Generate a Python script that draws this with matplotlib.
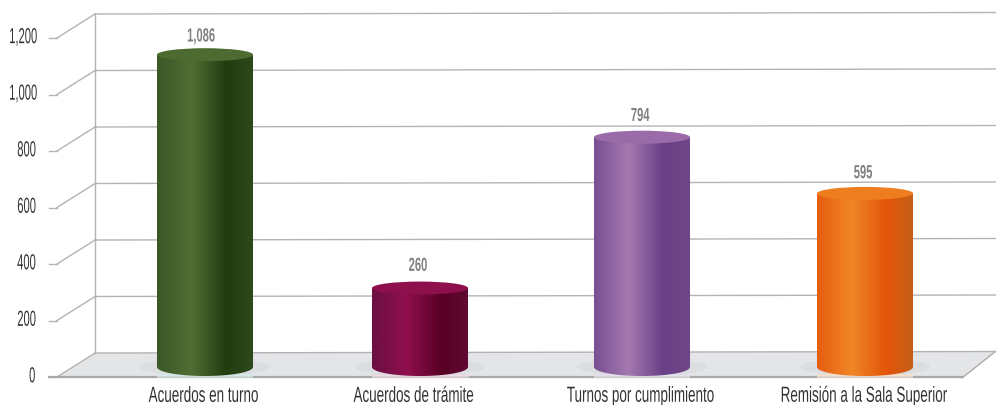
import numpy as np
import matplotlib
matplotlib.use("Agg")
import matplotlib.pyplot as plt
from matplotlib.colors import LinearSegmentedColormap
from matplotlib.patches import Ellipse, PathPatch, Polygon
from matplotlib.path import Path
from matplotlib.patheffects import AbstractPathEffect
from matplotlib.transforms import Affine2D

categories = ["Acuerdos en turno", "Acuerdos de trámite", "Turnos por cumplimiento", "Remisión a la Sala Superior"]
values = [1086, 260, 794, 595]
value_labels = ["1,086", "260", "794", "595"]
y_ticks = [0, 200, 400, 600, 800, 1000, 1200]
y_tick_labels = ["0", "200", "400", "600", "800", "1,000", "1,200"]

side_colors = [
    ["#3b5727", "#506f34", "#223c10", "#2d4a1b"],
    ["#6b0f42", "#8f0f4e", "#590024", "#600a32"],
    ["#784f92", "#a579af", "#6a4086", "#6f4686"],
    ["#e75d10", "#f08626", "#e4550a", "#c65f18"],
]
top_colors = ["#4d6b30", "#8d104c", "#9a6ba8", "#ee7d1f"]
glow_colors = ["#cfe6e6", "#e8d5de", "#e3dcea", "#f8dcc0"]

W, H = 996, 405
PX_X = 220.0      # pixels per category
PX_Y = 0.2825     # pixels per value unit
X0, Y0 = 205, 377 # pixel of category 0 and of value 0

# the bars are not evenly spaced in the original
bar_shift = [0, -5, -3, 0]
label_shift = [-1, -11, -4, -1]
value_shift = [-4, -7, -5, -2]
value_rise = [18, 22, 21, 20]


class Squeeze(AbstractPathEffect):
    """Narrows a text horizontally, the installed fonts are too wide."""
    def __init__(self, sx, sy=1.0):
        super().__init__()
        self.sx = sx
        self.sy = sy

    def draw_path(self, renderer, gc, tpath, affine, rgbFace=None):
        ext = tpath.transformed(affine).get_extents()
        cx = (ext.x0 + ext.x1) / 2
        cy = (ext.y0 + ext.y1) / 2
        squeeze = Affine2D().translate(-cx, -cy).scale(self.sx, self.sy).translate(cx, cy)
        renderer.draw_path(gc, tpath, affine + squeeze, rgbFace)


def dx(px):
    return px / PX_X


def dy(px):
    return px / PX_Y


fig = plt.figure(figsize=(W / 100, H / 100), dpi=100)
ax = fig.add_axes([0, 0, 1, 1])
ax.axis("off")
xlim = (-X0 / PX_X, (W - X0) / PX_X)
ylim = (-(H - Y0) / PX_Y, Y0 / PX_Y)

FONT = ["Liberation Sans", "DejaVu Sans"]
DEPTH_X, DEPTH_Y = dx(38), dy(24)
left = xlim[0] + dx(57)
right_front = xlim[0] + dx(962)
right_back = xlim[1]
grid_color = "#b3b3b5"

# piso
ax.add_patch(Polygon([(left, 0), (left + DEPTH_X, DEPTH_Y), (right_back, DEPTH_Y + dy(2)), (right_front, -dy(1))],
                     closed=True, facecolor="#e4e5e7", edgecolor="none", zorder=1))
ax.plot([right_front, right_back], [-dy(1), DEPTH_Y + dy(2)], color="#a5a5a7", lw=0.9, zorder=1.5)

# rejilla y pared
for t, lab in zip(y_ticks, y_tick_labels):
    ax.plot([left + DEPTH_X, right_back], [t + DEPTH_Y, t + DEPTH_Y + dy(1.5)], color=grid_color, lw=1.0, zorder=1.5)
    ax.plot([left, left + DEPTH_X], [t, t + DEPTH_Y], color=grid_color, lw=1.0, zorder=1.5)
    ax.plot([left - dx(8), left], [t, t], color=grid_color, lw=1.0, zorder=1.5)
    # digit width is the same for every label, so the right edge stays at 37 px
    width = len(lab.replace(",", "")) * 5.55 + (1.6 if "," in lab else 0)
    ax.text(xlim[0] + dx(35 - width / 2), t, lab, ha="center", va="center", fontsize=14, family=FONT,
            color="#333335", path_effects=[Squeeze(0.576, 1.12)], zorder=5)
ax.plot([left + DEPTH_X] * 2, [DEPTH_Y, y_ticks[-1] + DEPTH_Y], color=grid_color, lw=1.0, zorder=1.5)
ax.plot([left - dx(8), right_front], [0, 0], color="#a9a9ab", lw=1.6, zorder=1.6)

# cilindros
bar_w = dx(96)
top_off = dy(15.5)
base_off = dy(10)
top_h = dy(13)
base_h = dy(18)
for i, v in enumerate(values):
    c = i + dx(bar_shift[i])
    top = v + top_off
    # sombra y reflejo
    ax.add_patch(Ellipse((c, base_off), dx(130), dy(18), facecolor="#dcdde0", edgecolor="none", zorder=2))
    glow = LinearSegmentedColormap.from_list("g", [glow_colors[i], "#ffffff00"])
    ax.imshow(np.linspace(0, 1, 32)[:, None], cmap=glow, aspect="auto", zorder=2.2,
              extent=(c - bar_w / 2, c + bar_w / 2, -dy(5), dy(3)), origin="upper", interpolation="bilinear")

    t = np.linspace(np.pi, 2 * np.pi, 60)
    base_x = c + bar_w / 2 * np.cos(t)
    base_y = base_off + base_h / 2 * np.sin(t)
    outline = np.column_stack([np.r_[base_x, c + bar_w / 2, c - bar_w / 2, base_x[0]],
                               np.r_[base_y, top, top, base_y[0]]])
    clip = PathPatch(Path(outline), transform=ax.transData, facecolor="none", edgecolor="none")
    ax.add_patch(clip)
    cmap = LinearSegmentedColormap.from_list("side", list(zip([0, 0.36, 0.72, 1], side_colors[i])))
    im = ax.imshow(np.linspace(0, 1, 256)[None, :], cmap=cmap, aspect="auto", zorder=3,
                   extent=(c - bar_w / 2, c + bar_w / 2, base_off - base_h, top), interpolation="bilinear")
    im.set_clip_path(clip)
    ax.add_patch(Ellipse((c, top), bar_w, top_h, facecolor=top_colors[i], edgecolor="none", zorder=4))
    ax.text(i + dx(value_shift[i]), top + dy(value_rise[i]), value_labels[i], ha="center", va="center",
            fontsize=13, fontweight="bold", family=FONT, color="#808082",
            path_effects=[Squeeze(0.62, 1.05)], zorder=5)

# etiquetas de categoría
for i, lab in enumerate(categories):
    ax.text(i + dx(label_shift[i]), -dy(19), lab, ha="center", va="center", fontsize=15, family=FONT,
            color="#333335", path_effects=[Squeeze(0.645, 1.05)], zorder=5)

ax.set_xlim(*xlim)
ax.set_ylim(*ylim)
fig.savefig("out.png", dpi=100)
